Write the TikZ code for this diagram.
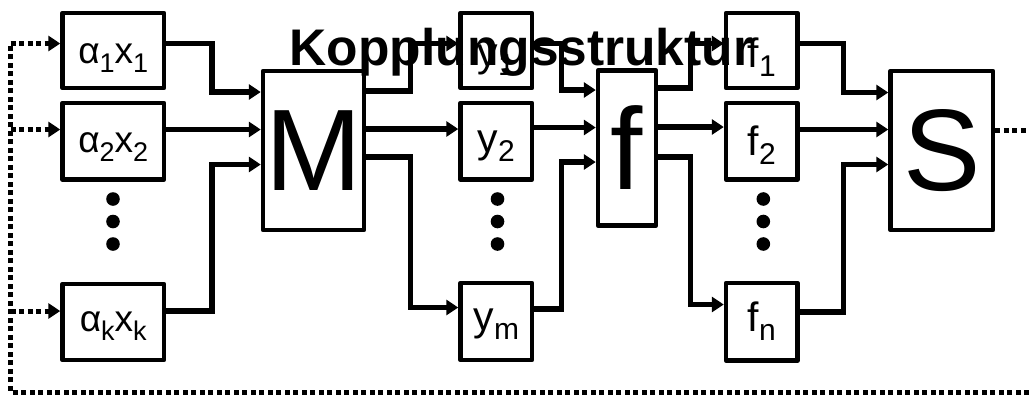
\documentclass[tikz,border=0pt]{standalone}
\usepackage{fontspec}
\setmainfont{Liberation Sans}
\usetikzlibrary{arrows.meta}
\newcommand\sbA[1]{\raisebox{-9pt}{\fontsize{27}{27}\selectfont #1}}
\newcommand\sbB[1]{\raisebox{-9pt}{\fontsize{30}{30}\selectfont #1}}
\tikzset{
  blk/.style={draw, line width=4.5pt, line join=round, inner sep=0pt},
  big/.style={blk, font=\fontsize{116}{116}\selectfont},
  laba/.style={inner sep=0pt, anchor=base, font=\fontsize{37}{37}\selectfont},
  labb/.style={inner sep=0pt, anchor=base, font=\fontsize{41}{41}\selectfont},
  conn/.style={line width=5.5pt, -{Triangle[length=12pt,width=15pt]}},
  fb/.style={line width=5pt, dash pattern=on 5pt off 3.5pt},
  fbarr/.style={fb, -{Triangle[length=12pt,width=15pt]}},
  dotc/.style={fill=black}
}
\begin{document}
\begin{tikzpicture}[x=1pt,y=-1pt]
\useasboundingbox (0,0) rectangle (1029,394);
% input boxes
\node[blk, minimum width=101.5pt, minimum height=75pt] (a1) at (113.25,50.5) {};
\node[blk, minimum width=101.5pt, minimum height=76.5pt] (a2) at (113.25,141.25) {};
\node[blk, minimum width=101.5pt, minimum height=76pt] (ak) at (113.25,322) {};
\node[laba] (la1) at (113.25,63) {α\sbA{1}x\sbA{1}};
\node[laba] (la2) at (113.25,152) {α\sbA{2}x\sbA{2}};
\node[laba] (lak) at (113.25,331.5) {α\sbA{k}x\sbA{k}};
% M
\node[big, minimum width=101pt, minimum height=159pt] (M) at (313.5,150.5) {M};
% y boxes
\node[blk, minimum width=71.5pt, minimum height=75pt] (y1) at (496.25,50.5) {};
\node[blk, minimum width=71.5pt, minimum height=76.5pt] (y2) at (496.25,141.25) {};
\node[blk, minimum width=71.5pt, minimum height=77pt] (ym) at (496.25,321.5) {};
\node[labb] (ly1) at (496.25,66) {y\sbB{1}};
\node[labb] (ly2) at (496.25,152) {y\sbB{2}};
\node[labb] (lym) at (496.25,330) {y\sbB{m}};
% f
\node[big, minimum width=58pt, minimum height=155pt] (f) at (627,148) {f};
% f boxes
\node[blk, minimum width=71.5pt, minimum height=75pt] (f1) at (761.75,50.5) {};
\node[blk, minimum width=71.5pt, minimum height=76.5pt] (f2) at (761.75,141.25) {};
\node[blk, minimum width=71.5pt, minimum height=77.5pt] (fn) at (761.75,321.75) {};
\node[labb] (lf1) at (761.75,67) {f\sbB{1}};
\node[labb] (lf2) at (761.75,155) {f\sbB{2}};
\node[labb] (lfn) at (761.75,331) {f\sbB{n}};
% S
\node[big, minimum width=102.5pt, minimum height=159pt] (S) at (941.75,150.5) {S};
% dots
\foreach \cx in {113,497.5,763.3}{
  \foreach \cy in {199,221.5,244}{
    \fill[dotc] (\cx,\cy) circle (6.8pt);
  }
}
% connectors
\draw[conn] (a1.east |- 0,43.5) -| (212,92) -- (M.west |- 0,92);
\draw[conn] (a2.east |- 0,129.5) -- (M.west |- 0,129.5);
\draw[conn] (ak.east |- 0,311) -| (212,164.5) -- (M.west |- 0,164.5);
\draw[conn] (M.east |- 0,91) -| (410.5,43.5) -- (y1.west |- 0,43.5);
\draw[conn] (M.east |- 0,129) -- (y2.west |- 0,129);
\draw[conn] (M.east |- 0,157) -| (410.5,307.5) -- (ym.west |- 0,307.5);
\draw[conn] (y1.east |- 0,43.5) -| (561.5,90) -- (f.west |- 0,90);
\draw[conn] (y2.east |- 0,127.5) -- (f.west |- 0,127.5);
\draw[conn] (ym.east |- 0,309) -| (561.5,162) -- (f.west |- 0,162);
\draw[conn] (f.east |- 0,88) -| (690.5,43.5) -- (f1.west |- 0,43.5);
\draw[conn] (f.east |- 0,127) -- (f2.west |- 0,127);
\draw[conn] (f.east |- 0,157) -| (690.5,304.5) -- (fn.west |- 0,304.5);
\draw[conn] (f1.east |- 0,43.5) -| (843.5,92.5) -- (S.west |- 0,92.5);
\draw[conn] (f2.east |- 0,129.5) -- (S.west |- 0,129.5);
\draw[conn] (fn.east |- 0,312) -| (843.5,164.5) -- (S.west |- 0,164.5);
% feedback
\coordinate (oR) at (1029,130);
\coordinate (bR) at (1029,392);
\coordinate (bL) at (10.5,392);
\coordinate (tL) at (10.5,43.5);
\draw[fb] (S.east |- oR) -- (oR);
\draw[fb] (bR) -- (bL) -- (tL);
\draw[fbarr] (tL) -- (a1.west |- tL);
\draw[fbarr] (10.5,129.5) -- (a2.west |- 0,129.5);
\draw[fbarr] (10.5,311) -- (ak.west |- 0,311);
% title
\node[inner sep=0pt, anchor=base west, font=\fontsize{51.5}{51.5}\selectfont\bfseries] (title) at (289.5,65) {Kopplungsstruktur};
\end{tikzpicture}
\end{document}
